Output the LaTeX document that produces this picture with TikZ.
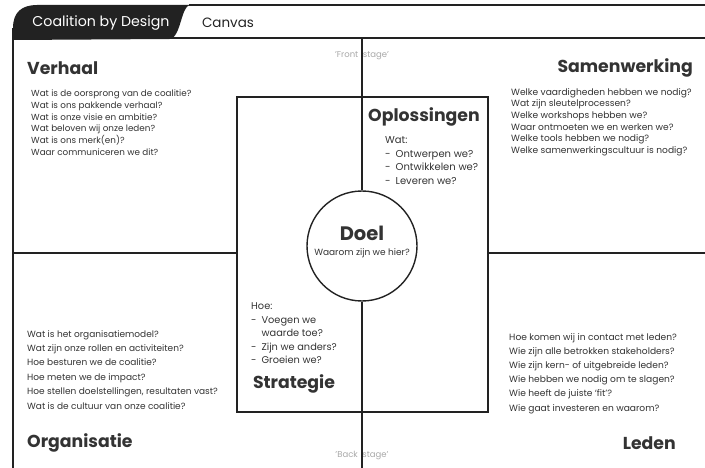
\documentclass[tikz,border=0pt]{standalone}
\usepackage{fontspec}
\setmainfont{Poppins}
\usepackage{tikz}
\definecolor{ink}{HTML}{222222}
\definecolor{txt}{HTML}{333333}
\definecolor{stagegray}{HTML}{A8A8A8}

\begin{document}
\begin{tikzpicture}
	 [x=1pt,y=-1pt,
	  frameline/.style={draw=ink,line width=2pt},
	  thinline/.style={draw=ink,line width=1.4pt},
	  head/.style={text=txt,inner sep=0pt,font=\fontsize{17.3}{20}\selectfont\bfseries},
	  quest/.style={text=txt,inner sep=0pt,anchor=north west,align=left},
	  stagelbl/.style={text=stagegray,inner sep=0pt,font=\fontsize{8.5}{10}\selectfont}]

	  \useasboundingbox (0,0) rectangle (705,468);

	  % header tab and frame
	  \fill[ink] (13,40) -- (13,28) .. controls (13,12) and (22,5) .. (37,5) -- (190,5)
	       .. controls (181,6) and (181,37) .. (170,39) -- cycle;
	  \coordinate (tabtop) at (189,5);
	  \coordinate (tr) at (705,5);
	  \coordinate (barl) at (13,38);
	  \coordinate (barr) at (705,38);
	  \coordinate (corner) at (13,28);
	  \coordinate (bl) at (13,468);
	  \draw[frameline] (tabtop) -- (tr);
	  \draw[frameline] (barl) -- (barr);
	  \draw[frameline] (corner) -- (bl);

	  \node[text=white,inner sep=0pt,font=\fontsize{14.2}{16}\selectfont] (title) at (101,23) {Coalition by Design};
	  \node[text=ink,inner sep=0pt,font=\fontsize{13.5}{16}\selectfont] (canvas) at (228,23) {Canvas};

	  % middle box and circle
	  \coordinate (boxtl) at (237,97);
	  \coordinate (boxbr) at (488,412);
	  \draw[thinline] (boxtl) rectangle (boxbr);
	  \node[circle,draw=ink,line width=1.4pt,minimum size=110pt,inner sep=0pt,fill=white] (doel) at (362,246) {};

	  \coordinate (vtop) at (362,38);
	  \coordinate (vbot) at (362,468);
	  \coordinate (hl1) at (13,253);
	  \coordinate (hl2) at (237,253);
	  \coordinate (hr1) at (488,253);
	  \coordinate (hr2) at (705,253);

	  \node[stagelbl] (front) at (362,56) {'Front\ \ stage'};
	  \node[stagelbl] (back) at (362,456) {'Back\ \ stage'};

	  \draw[thinline] (vtop) -- (doel.north);
	  \draw[thinline] (doel.south) -- (vbot);
	  \draw[thinline] (hl1) -- (hl2);
	  \draw[thinline] (hr1) -- (hr2);

	  \node[text=txt,inner sep=0pt,font=\fontsize{19.5}{22}\selectfont\bfseries] (doeltxt) at (362,233) {Doel};
	  \node[text=txt,inner sep=0pt,font=\fontsize{9}{10}\selectfont] (waarom) at (362,253) {Waarom zijn we hier?};

	  % quadrant titles
	  \node[head,anchor=west] (verhaal) at (27,68) {Verhaal};
	  \node[head,anchor=east] (samen) at (693,68) {Samenwerking};
	  \node[head,anchor=west] (organ) at (27,443) {Organisatie};
	  \node[head,anchor=east] (leden) at (676,443) {Leden};
	  \node[head] (oploss) at (424,117) {Oplossingen};
	  \node[head] (strat) at (294,384) {Strategie};

	  % questions
	  \node[quest,font=\fontsize{8.8}{11.7}\selectfont] (qverhaal) at (31,90)
	    {Wat is de oorsprong van de coalitie?\\Wat is ons pakkende verhaal?\\Wat is onze visie en ambitie?\\
	     Wat beloven wij onze leden?\\Wat is ons merk(en)?\\Waar communiceren we dit?};
	  \node[quest,font=\fontsize{9.1}{11.7}\selectfont] (qsamen) at (511,88)
	    {Welke vaardigheden hebben we nodig?\\Wat zijn sleutelprocessen?\\Welke workshops hebben we?\\
	     Waar ontmoeten we en werken we?\\Welke tools hebben we nodig?\\Welke samenwerkingscultuur is nodig?};
	  \node[quest,font=\fontsize{9}{14.4}\selectfont] (qorgan) at (27,330)
	    {Wat is het organisatiemodel?\\Wat zijn onze rollen en activiteiten?\\Hoe besturen we de coalitie?\\
	     Hoe meten we de impact?\\Hoe stellen doelstellingen, resultaten vast?\\Wat is de cultuur van onze coalitie?};
	  \node[quest,font=\fontsize{9.1}{14.2}\selectfont] (qleden) at (509,333)
	    {Hoe komen wij in contact met leden?\\Wie zijn alle betrokken stakeholders?\\Wie zijn kern- of uitgebreide leden?\\
	     Wie hebben we nodig om te slagen?\\Wie heeft de juiste `fit'?\\Wie gaat investeren en waarom?};

	  \node[quest,font=\fontsize{10}{13.5}\selectfont] (qoploss) at (385,134)
	    {\begin{tabular}{@{}l@{\hspace{5pt}}l@{}}
	      \multicolumn{2}{@{}l@{}}{Wat:}\\ - & Ontwerpen we?\\ - & Ontwikkelen we?\\ - & Leveren we?
	     \end{tabular}};
	  \node[quest,font=\fontsize{9.8}{13.5}\selectfont] (qstrat) at (251,300)
	    {\begin{tabular}{@{}l@{\hspace{5pt}}l@{}}
	      \multicolumn{2}{@{}l@{}}{Hoe:}\\ - & Voegen we\\ & waarde toe?\\ - & Zijn we anders?\\ - & Groeien we?
	     \end{tabular}};

\end{tikzpicture}
\end{document}
